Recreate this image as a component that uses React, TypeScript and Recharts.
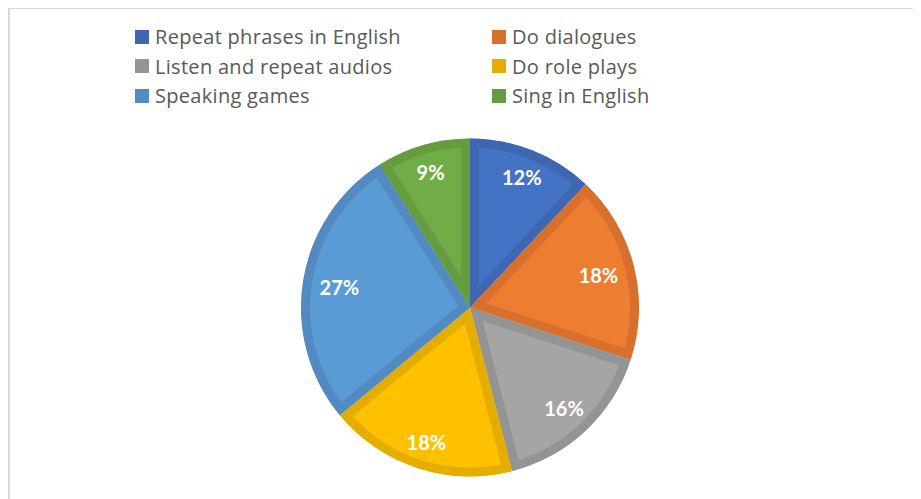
import { PieChart, Pie, Cell, Sector } from "recharts";

const categories = [
  "Repeat phrases in English",
  "Do dialogues",
  "Listen and repeat audios",
  "Do role plays",
  "Speaking games",
  "Sing in English",
];
const shares = [12, 18, 16, 18, 27, 9];

const FILLS = ["#4472C4", "#ED7D31", "#A5A5A5", "#FFC000", "#5B9BD5", "#70AD47"];
const EDGES = ["#3E66B1", "#D7702C", "#949494", "#E5AD00", "#528AC1", "#649C3F"];

const data = categories.map((name, i) => ({ name, value: shares[i] }));

const RAD = Math.PI / 180;

function SliceLabel({ cx, cy, midAngle, value }: any) {
  const c = Math.cos(-midAngle * RAD);
  const s = Math.sin(-midAngle * RAD);
  // pull labels in a bit near 3 and 9 o'clock so the text box stays inside
  const r = 142 - 10 * c * c;
  return (
    <text
      x={cx + r * c}
      y={cy + r * s}
      fill="#FFFFFF"
      textAnchor="middle"
      dominantBaseline="central"
      style={{ fontFamily: "Lato, sans-serif", fontWeight: 700, fontSize: 20 }}
    >
      {value}%
    </text>
  );
}

// Excel draws the slice border inside the slice, so clip a wide stroke to the slice itself
function InsetSlice(props: any) {
  const id = `slice-clip-${props.index}`;
  const { stroke, strokeWidth, ...rest } = props;
  return (
    <g>
      <defs>
        <clipPath id={id}>
          <Sector {...rest} stroke="none" />
        </clipPath>
      </defs>
      <Sector {...rest} stroke={stroke} strokeWidth={18} clipPath={`url(#${id})`} />
    </g>
  );
}

export default function App() {
  // legend in two columns, row-major like Excel
  const legendLeft = [125, 482];
  return (
    <div
      style={{
        position: "relative",
        top: -1,
        width: 940,
        height: 520,
        border: "2px solid #D9D9D9",
        boxSizing: "border-box",
        background: "#fff",
        overflow: "hidden",
      }}
    >
      <div style={{ position: "absolute", left: 0, top: 0 }}>
        <PieChart width={913} height={491}>
          <Pie
            data={data}
            dataKey="value"
            nameKey="name"
            cx={455}
            cy={293.5}
            outerRadius={169}
            startAngle={90}
            endAngle={-270}
            shape={<InsetSlice />}
            label={<SliceLabel />}
            labelLine={false}
            isAnimationActive={false}
          >
            {data.map((_, i) => (
              <Cell key={i} fill={FILLS[i]} stroke={EDGES[i]} />
            ))}
          </Pie>
        </PieChart>
      </div>
      {data.map((d, i) => (
        <div
          key={d.name}
          style={{
            position: "absolute",
            left: legendLeft[i % 2],
            top: 14 + Math.floor(i / 2) * 29.5,
            display: "flex",
            alignItems: "center",
            gap: 6,
            fontFamily: "'Open Sans', sans-serif",
            fontSize: 20,
            letterSpacing: 0.3,
            color: "#595959",
            whiteSpace: "nowrap",
          }}
        >
          <span style={{ width: 14, height: 14, background: EDGES[i], display: "inline-block" }} />
          <span>{d.name}</span>
        </div>
      ))}
    </div>
  );
}
